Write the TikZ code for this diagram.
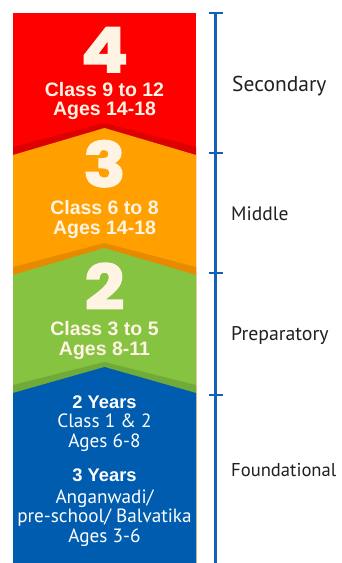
\documentclass[tikz,border=0pt]{standalone}
\usepackage{fontspec}
\usepackage{graphicx}
\setmainfont{Liberation Sans}
\newfontfamily\ptsans{PT Sans}
\newfontfamily\numfont{Poppins}[FakeBold=2.5]
\definecolor{cRed}{HTML}{FE0000}
\definecolor{cRedD}{HTML}{DC0000}
\definecolor{cOrange}{HTML}{FFA000}
\definecolor{cOrangeD}{HTML}{E88A00}
\definecolor{cGreen}{HTML}{86C341}
\definecolor{cGreenD}{HTML}{70AB3A}
\definecolor{cBlue}{HTML}{005CAF}
\definecolor{cRuler}{HTML}{1162B6}
\definecolor{cCream}{HTML}{FFF4E3}
\definecolor{cLabel}{HTML}{231F20}
\newcommand{\widenum}[1]{\scalebox{1.12}[1]{#1}}
\tikzset{
  bignum/.style={anchor=base, text=cCream, font=\numfont\bfseries\fontsize{62}{62}\selectfont, inner sep=0pt, text depth=0pt, text height=44pt},
  boldtxt/.style={anchor=base, text=cCream, font=\bfseries\fontsize{19.5}{20}\selectfont, inner sep=0pt},
  bluebold/.style={anchor=base, text=white, font=\bfseries\fontsize{18.3}{18}\selectfont, inner sep=0pt},
  bluereg/.style={anchor=base, text=white, font=\ptsans\fontsize{19.2}{19}\selectfont, inner sep=0pt},
  stagelabel/.style={anchor=base west, text=cLabel, inner sep=0pt},
  rulerline/.style={draw=cRuler, line width=2.5pt},
}
\begin{document}
\begin{tikzpicture}[x=1pt,y=-1pt]
\useasboundingbox (0,0) rectangle (341,563);
\fill[white] (0,0) rectangle (341,563);
% bands
\fill[cRed] (13,13) rectangle (196,563);
\fill[cRedD] (13,147) -- (104.5,123) -- (196,147) -- (196,563) -- (13,563) -- cycle;
\fill[cOrange] (13,155) -- (104.5,128) -- (196,155) -- (196,563) -- (13,563) -- cycle;
\fill[cOrangeD] (13,267) -- (104.5,243) -- (196,267) -- (196,563) -- (13,563) -- cycle;
\fill[cGreen] (13,275) -- (104.5,248) -- (196,275) -- (196,563) -- (13,563) -- cycle;
\fill[cGreenD] (13,385) -- (104.5,362) -- (196,385) -- (196,563) -- (13,563) -- cycle;
\fill[cBlue] (13,393) -- (104.5,367) -- (196,393) -- (196,563) -- (13,563) -- cycle;
% texts
\node[bignum] (n4) at (104.5,72) {\widenum{4}};
\node[boldtxt] (c4) at (104.5,96) {Class 9 to 12};
\node[boldtxt] (a4) at (104.5,115.7) {Ages 14-18};
\node[bignum] (n3) at (104.5,186.7) {\widenum{3}};
\node[boldtxt] (c3) at (104.5,214) {Class 6 to 8};
\node[boldtxt] (a3) at (104.5,234) {Ages 14-18};
\node[bignum] (n2) at (104.5,309.3) {\widenum{2}};
\node[boldtxt] (c2) at (104.5,335.7) {Class 3 to 5};
\node[boldtxt] (a2) at (104.5,355.3) {Ages 8-11};
\node[bluebold] (y2) at (104.5,408.3) {2 Years};
\node[bluereg] (c1) at (104.5,427.7) {Class 1 \& 2};
\node[bluereg] (a1) at (104.5,447.7) {Ages 6-8};
\node[bluebold] (y3) at (104.5,481.7) {3 Years};
\node[bluereg] (aw) at (104.5,503.3) {Anganwadi/};
\node[bluereg] (ps) at (104.5,522.7) {pre-school/ Balvatika};
\node[bluereg] (a0) at (104.5,542.7) {Ages 3-6};
% ruler
\coordinate (rt) at (215.5,13);
\coordinate (rb) at (215.5,563);
\draw[rulerline] (rt) -- (rb);
\foreach \yy/\nm in {13/t0,153/t1,273/t2,395/t3}{
  \coordinate (\nm L) at (209,\yy);
  \coordinate (\nm R) at (222.5,\yy);
  \draw[rulerline] (\nm L) -- (\nm R);
}
% labels
\node[stagelabel, font=\ptsans\fontsize{21.5}{22}\selectfont] (lsec) at (232,91.7) {Secondary};
\node[stagelabel, font=\ptsans\fontsize{19.5}{20}\selectfont] (lmid) at (231,220) {Middle};
\node[stagelabel, font=\ptsans\fontsize{19.8}{20}\selectfont] (lpre) at (231,340.7) {Preparatory};
\node[stagelabel, font=\ptsans\fontsize{18.6}{19}\selectfont] (lfou) at (231,476) {Foundational};
\end{tikzpicture}
\end{document}
